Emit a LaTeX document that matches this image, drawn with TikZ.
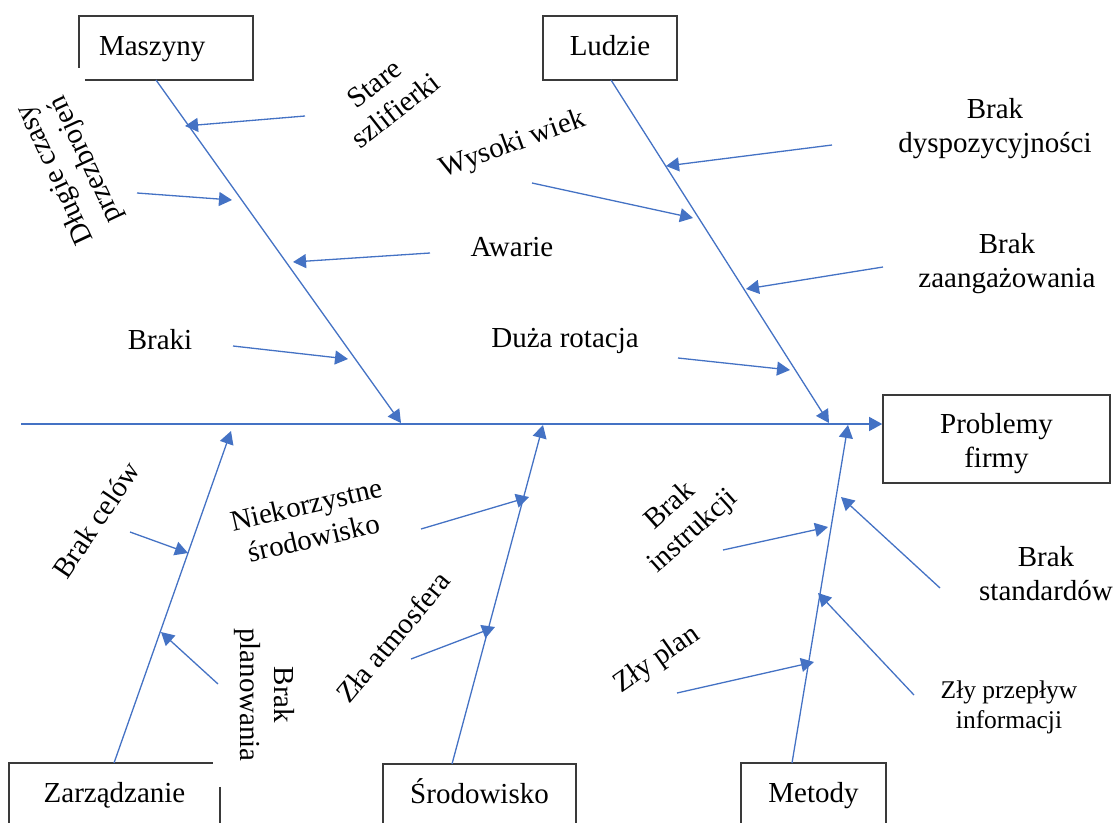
\documentclass[tikz,border=0pt]{standalone}
\usepackage{fontspec}
\setmainfont{Liberation Serif}
\usetikzlibrary{arrows.meta}
\definecolor{bl}{HTML}{4472C4}
\definecolor{frm}{HTML}{3A3A3A}
\begin{document}
\begin{tikzpicture}[x=1pt,y=-1pt,
  bone/.style={draw=bl, line width=1.3pt, -{Triangle[length=13pt,width=14pt]}},
  framebox/.style={minimum height=64pt, text height=20pt, text depth=6pt, inner sep=0pt},
  frameline/.style={draw=frm, line width=1.6pt},
  lbl/.style={font=\fontsize{29}{34}\selectfont, align=center, inner sep=0pt},
  smalllbl/.style={font=\fontsize{25.5}{30}\selectfont, align=center, inner sep=0pt}
]
\clip (0,0) rectangle (1115,822);

% ---------- category boxes ----------
\node[framebox, lbl, minimum width=174pt, text width=134pt, inner xsep=20pt, align=left] (mas) at (166,48) {Maszyny};
\draw[frameline] ([xshift=6pt]mas.south west) -- (mas.south east) -- (mas.north east) -- (mas.north west) -- ([yshift=12pt]mas.south west);
\node[framebox, lbl, frameline, minimum width=134pt] (lud) at (610,48) {Ludzie};
\node[framebox, lbl, frameline, minimum width=227pt, minimum height=88pt, text height=62pt, text depth=6pt] (prob) at (996.5,439) {Problemy\\firmy};
\node[framebox, lbl, minimum width=211pt] (zarz) at (114.5,795) {Zarządzanie};
\draw[frameline] (zarz.south west) -- (zarz.north west) -- ([xshift=-7pt]zarz.north east);
\draw[frameline] ([yshift=-24pt]zarz.north east) -- (zarz.south east);
\node[framebox, lbl, frameline, minimum width=193pt] (srod) at (479.5,796) {Środowisko};
\node[framebox, lbl, frameline, minimum width=145pt] (met) at (813.5,795) {Metody};

% ---------- spine and bones ----------
\coordinate (spL) at (21,424);
\coordinate (spR) at (prob.west |- spL);
\draw[bone] (spL) -- (spR);

\coordinate (masS) at (156,80);   \coordinate (masT) at (401,423);
\coordinate (ludS) at (611,80);   \coordinate (ludT) at (829,423);
\coordinate (zarS) at (114,763);  \coordinate (zarT) at (231,431);
\coordinate (srdS) at (452,764);  \coordinate (srdT) at (543,425);
\coordinate (metS) at (792,763);  \coordinate (metT) at (848,425);
\draw[bone] (masS) -- (masT);
\draw[bone] (ludS) -- (ludT);
\draw[bone] (zarS) -- (zarT);
\draw[bone] (srdS) -- (srdT);
\draw[bone] (metS) -- (metT);

% ---------- causes: Maszyny ----------
\node[lbl, rotate=38] (stare) at (385,97) {Stare\\szlifierki};
\node[lbl, rotate=115] (dlugie) at (71,167) {Długie czasy\\przezbrojeń};
\node[lbl] (awarie) at (512,247) {Awarie};
\node[lbl] (braki) at (160,340) {Braki};
\coordinate (c1s) at (305,116); \coordinate (c1t) at (185,126);
\coordinate (c2s) at (137,193); \coordinate (c2t) at (232,200);
\coordinate (c3s) at (430,253); \coordinate (c3t) at (293,262);
\coordinate (c4s) at (233,346); \coordinate (c4t) at (348,359);
\draw[bone] (c1s) -- (c1t);
\draw[bone] (c2s) -- (c2t);
\draw[bone] (c3s) -- (c3t);
\draw[bone] (c4s) -- (c4t);

% ---------- causes: Ludzie ----------
\node[lbl] (dysp) at (995,128.5) {Brak\\dyspozycyjności};
\node[lbl, rotate=20] (wiek) at (513,145) {Wysoki wiek};
\node[lbl] (zaang) at (1007,264) {Brak\\zaangażowania};
\node[lbl] (rot) at (565,341) {Duża rotacja};
\coordinate (c5s) at (832,145); \coordinate (c5t) at (666,166);
\coordinate (c6s) at (532,183); \coordinate (c6t) at (693,218);
\coordinate (c7s) at (883,267); \coordinate (c7t) at (746,289);
\coordinate (c8s) at (678,358); \coordinate (c8t) at (790,370);
\draw[bone] (c5s) -- (c5t);
\draw[bone] (c6s) -- (c6t);
\draw[bone] (c7s) -- (c7t);
\draw[bone] (c8s) -- (c8t);

% ---------- causes: Zarządzanie ----------
\node[lbl, rotate=56] (cele) at (96,520) {Brak celów};
\node[lbl, rotate=-90] (plan) at (264,695) {Brak\\planowania};
\coordinate (c9s) at (130,532);  \coordinate (c9t) at (188,553);
\coordinate (c10s) at (218,684); \coordinate (c10t) at (161,632);
\draw[bone] (c9s) -- (c9t);
\draw[bone] (c10s) -- (c10t);

% ---------- causes: Środowisko ----------
\node[lbl, rotate=13] (niek) at (310,521) {Niekorzystne\\środowisko};
\node[lbl, rotate=50] (atm) at (393,637) {Zła atmosfera};
\coordinate (c11s) at (421,529); \coordinate (c11t) at (529,497);
\coordinate (c12s) at (411,659); \coordinate (c12t) at (495,627);
\draw[bone] (c11s) -- (c11t);
\draw[bone] (c12s) -- (c12t);

% ---------- causes: Metody ----------
\node[lbl, rotate=42] (instr) at (682,519) {Brak\\instrukcji};
\node[lbl] (stand) at (1046,574) {Brak\\standardów};
\node[lbl, rotate=35] (zplan) at (657,660) {Zły plan};
\node[smalllbl] (przep) at (1009,707) {Zły przepływ\\informacji};
\coordinate (c13s) at (723,550); \coordinate (c13t) at (828,527);
\coordinate (c14s) at (940,588); \coordinate (c14t) at (841,497);
\coordinate (c15s) at (677,693); \coordinate (c15t) at (814,662);
\coordinate (c16s) at (914,695); \coordinate (c16t) at (818,593);
\draw[bone] (c13s) -- (c13t);
\draw[bone] (c14s) -- (c14t);
\draw[bone] (c15s) -- (c15t);
\draw[bone] (c16s) -- (c16t);
\end{tikzpicture}
\end{document}
